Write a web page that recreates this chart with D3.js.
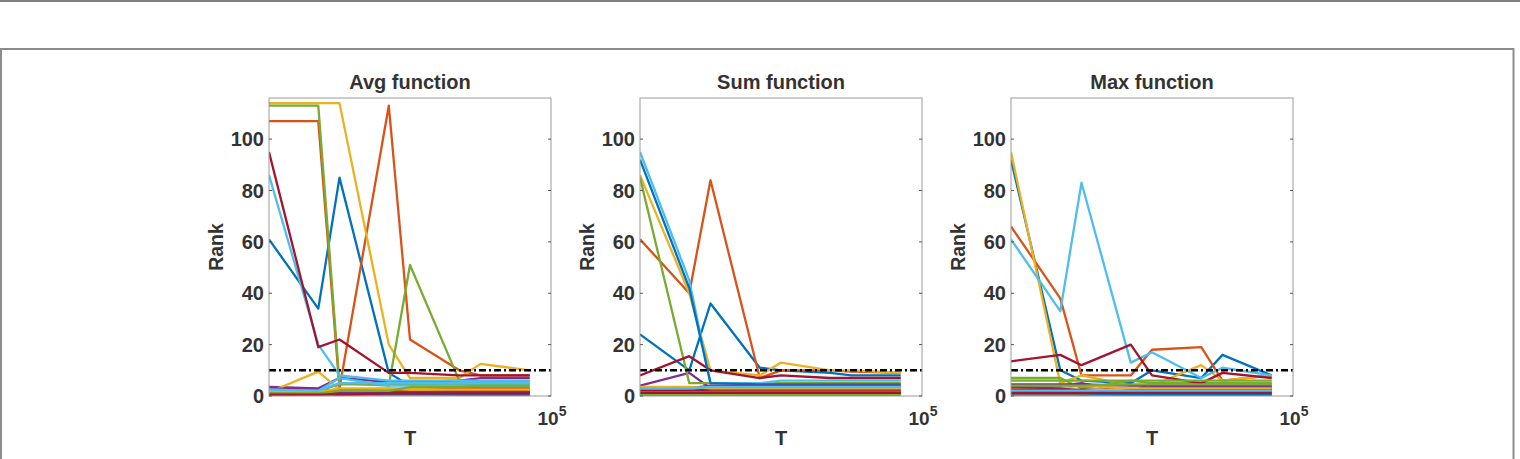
<!DOCTYPE html>
<html>
<head>
<meta charset="utf-8">
<script src="https://cdn.jsdelivr.net/npm/d3@7"></script>
<style>
body { margin: 0; background: #fff; }
svg { display: block; }
text { font-family: "Liberation Sans", Arial, sans-serif; font-weight: bold; fill: #333; }
</style>
</head>
<body>
<svg id="chart" width="1520" height="459"></svg>
<script>
// x values (log axis), shared by all three panels
var T = [10, 50, 100, 500, 1000, 5000, 10000, 50000];
var titles = ["Avg function", "Sum function", "Max function"];
var yTicks = [0, 20, 40, 60, 80, 100];
var threshold = 10;

// one row per series, colours cycle in series order (matlab style)
var avgRanks = [
  [61, 34, 85, 9, 4, 3, 3, 3],
  [107, 107, 3, 113, 22, 10, 8, 8],
  [114, 114, 114, 20, 7, 7, 12.5, 10],
  [3.5, 3, 7, 5.5, 5.5, 6, 7, 7],
  [113, 113, 5, 4, 51, 6, 5.5, 5.5],
  [86, 20, 8, 6, 6, 6, 6, 6],
  [95, 19, 22, 9, 9, 8, 8, 8],
  [3, 1, 0.5, 0.5, 0.5, 0.5, 0.5, 0.5],
  [0.5, 0.5, 1, 1, 1, 1, 1, 1],
  [1.5, 9.5, 2.5, 3, 3, 3, 3.5, 3.5],
  [3, 2.5, 2, 1.5, 1.5, 1.5, 1.5, 1.5],
  [2, 2, 4.5, 4.5, 4.5, 4.5, 4.5, 4.5],
  [2.5, 2, 7, 4, 4, 4, 4, 4],
  [1, 1, 1.5, 2, 2, 2, 2, 2],
  [2, 1.5, 0.5, 1, 1, 0.5, 0.5, 0.5],
  [1.5, 1, 2.5, 2, 2, 3, 3, 3],
  [2, 1.5, 3, 3, 2.5, 2.5, 2.5, 2.5],
  [0.5, 0.5, 1, 1.5, 1.5, 1.5, 1.5, 1.5],
  [1, 1, 2, 2, 3.5, 3.5, 4, 4],
  [2.5, 2, 5, 5, 5, 5, 5, 5],
  [0.5, 0.5, 0.5, 1, 1, 1, 1, 1]
];
var sumRanks = [
  [24, 10, 36, 11, 10, 9, 8, 8],
  [61, 40, 84, 7, 10, 10, 9.5, 9],
  [86, 40, 10, 8, 13, 10, 10, 9],
  [4, 9, 3, 3, 3, 3, 3, 3],
  [85, 5, 5, 5, 5, 5, 5, 5],
  [95, 45, 5, 5, 6, 6, 6, 6],
  [8, 15.5, 10, 7, 8, 7, 7, 7],
  [92, 42, 5, 4.5, 4.5, 4.5, 4.5, 4.5],
  [2, 2.5, 2, 2, 2, 2, 2, 2],
  [2.5, 3, 2.5, 2.5, 2.5, 2.5, 2.5, 2.5],
  [3, 3, 4, 4, 4, 4, 4, 4],
  [1.5, 1.5, 1.5, 1.5, 1.5, 1.5, 1.5, 1.5],
  [1, 1, 1, 1, 1, 1, 1, 1],
  [2, 2, 2.5, 2.5, 2.5, 2.5, 2.5, 2.5],
  [0.5, 0.5, 0.5, 0.5, 0.5, 0.5, 0.5, 0.5],
  [1.5, 1.5, 1.5, 1.5, 1.5, 1.5, 1.5, 1.5],
  [3.5, 3.5, 3, 3, 3, 3, 3, 3],
  [1, 1, 1, 1, 1, 1, 1, 1],
  [0.8, 0.8, 0.8, 0.8, 0.8, 0.8, 0.8, 0.8],
  [3, 3, 3.5, 3.5, 3.5, 3.5, 3.5, 3.5],
  [1.2, 1.2, 1.2, 1.2, 1.2, 1.2, 1.2, 1.2]
];
var maxRanks = [
  [92, 10, 6, 5, 10, 7, 16, 8],
  [66, 38, 8, 8, 18, 19, 6, 8],
  [95, 5, 8, 4, 4, 12, 6, 8],
  [4, 4, 5, 1.5, 5, 4, 3, 3],
  [7, 7, 3, 6, 5, 5, 5, 5],
  [61, 33, 83, 13, 17, 7, 11, 8],
  [13.5, 16, 12, 20, 8, 5, 9, 7],
  [1, 1.5, 1, 0.5, 0.5, 0.5, 0.5, 0.5],
  [2, 2, 0.5, 2, 2, 2, 2, 2],
  [3, 3, 4, 3, 2.5, 2.5, 2.5, 2.5],
  [3.5, 3, 2, 2, 3.5, 3.5, 3.5, 3.5],
  [6, 6, 6, 6, 6, 6, 6, 6],
  [1.5, 1.5, 1, 1, 1, 1, 1, 1],
  [2.5, 2.5, 2.5, 2.5, 2.5, 2.5, 2.5, 2.5],
  [0.5, 0.5, 0.5, 0.5, 0.5, 0.5, 0.5, 0.5],
  [1, 1, 1, 1.5, 1.5, 1.5, 1.5, 1.5],
  [2, 2, 2, 3, 3, 3, 3, 3],
  [4.5, 4.5, 4.5, 4, 4, 4, 4, 4],
  [4, 4, 4, 4.5, 4.5, 4.5, 4.5, 4.5],
  [2, 2, 2, 2, 2, 2, 2, 2],
  [1.2, 1.2, 1.2, 1.2, 1.2, 1.2, 1.2, 1.2]
];

var colors = ["#0072BD", "#D95319", "#EDB120", "#7E2F8E", "#77AC30", "#4DBEEE", "#A2142F"];
var panelData = [avgRanks, sumRanks, maxRanks];
var panelLeft = [269, 640, 1011];
var pw = 282, plotTop = 98, plotBottom = 396;
var ph = plotBottom - plotTop;

var svg = d3.select("#chart");

// page frame
svg.append("line").attr("x1", 0).attr("x2", 1520).attr("y1", 1).attr("y2", 1)
  .attr("stroke", "#555").attr("stroke-width", 1.5);
svg.append("rect").attr("x", 1).attr("y", 49).attr("width", 1512.5).attr("height", 440)
  .attr("fill", "none").attr("stroke", "#8c8c8c").attr("stroke-width", 2);

var x = d3.scaleLog().domain([10, 1e5]).range([0, pw]);
var y = d3.scaleLinear().domain([0, 116]).range([ph, 0]);
var color = d3.scaleOrdinal().domain(d3.range(7)).range(colors);

var line = d3.line()
  .x(function(d, i) { return x(T[i]); })
  .y(function(d) { return y(d); });

panelData.forEach(function(rows, p) {
  var g = svg.append("g").attr("transform", "translate(" + panelLeft[p] + "," + plotTop + ")");

  g.append("clipPath").attr("id", "clip" + p)
    .append("rect").attr("width", pw).attr("height", ph);

  var plot = g.append("g").attr("clip-path", "url(#clip" + p + ")");
  plot.selectAll("path.series")
    .data(rows)
    .enter()
    .append("path")
    .attr("class", "series")
    .attr("d", line)
    .attr("fill", "none")
    .attr("stroke", function(d, i) { return color(i % 7); })
    .attr("stroke-width", 2.3)
    .attr("stroke-linejoin", "round");

  // threshold line
  plot.append("line")
    .attr("x1", 0).attr("x2", pw)
    .attr("y1", y(threshold)).attr("y2", y(threshold))
    .attr("stroke", "#000").attr("stroke-width", 2.5)
    .attr("stroke-dasharray", "7,3,2,3");

  // box
  g.append("rect").attr("width", pw).attr("height", ph)
    .attr("fill", "none").attr("stroke", "#9a9a9a").attr("stroke-width", 1);

  // y ticks inside on both sides
  yTicks.forEach(function(t) {
    g.append("line").attr("x1", 0).attr("x2", 3).attr("y1", y(t)).attr("y2", y(t))
      .attr("stroke", "#555");
    g.append("line").attr("x1", pw - 3).attr("x2", pw).attr("y1", y(t)).attr("y2", y(t))
      .attr("stroke", "#555");
    g.append("text").attr("x", -5).attr("y", y(t)).attr("dy", "0.36em")
      .attr("text-anchor", "end").style("font-size", "20px").text(t);
  });

  g.append("text").attr("x", pw / 2).attr("y", -9)
    .attr("text-anchor", "middle").style("font-size", "20px").text(titles[p]);

  g.append("text").attr("transform", "translate(-53," + (ph / 2) + ") rotate(-90)")
    .attr("dy", "0.36em").attr("text-anchor", "middle").style("font-size", "19.5px").text("Rank");

  g.append("text").attr("x", pw / 2).attr("y", 347)
    .attr("text-anchor", "middle").style("font-size", "20px").text("T");

  var lab = g.append("text").attr("x", pw + 1).attr("y", 327)
    .attr("text-anchor", "middle").style("font-size", "19px");
  lab.append("tspan").text("10");
  lab.append("tspan").attr("dy", -9).style("font-size", "14px").text("5");
});
</script>
</body>
</html>
